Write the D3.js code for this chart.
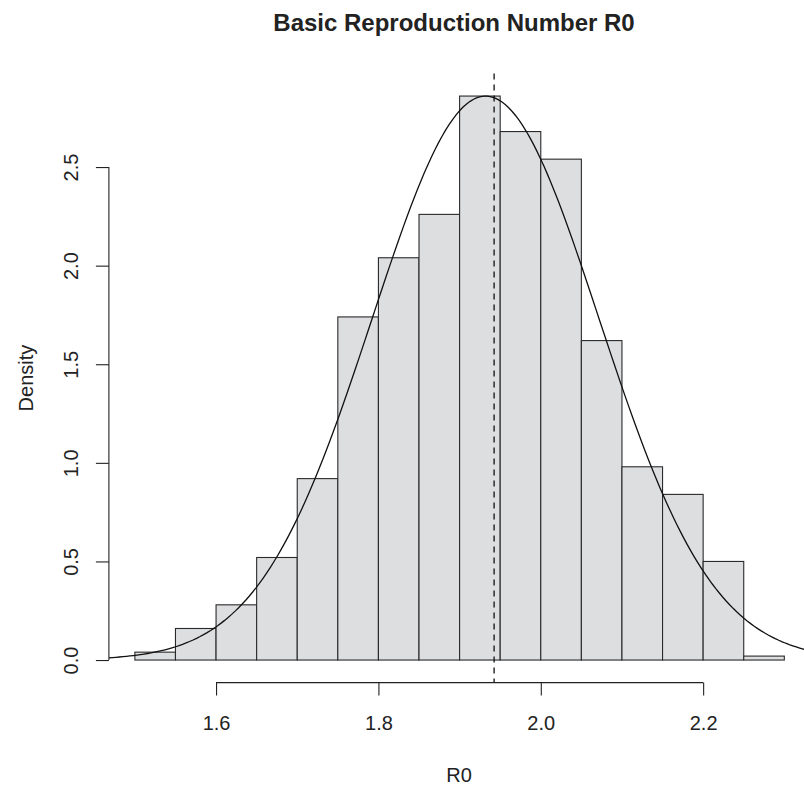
<!DOCTYPE html>
<html><head><meta charset="utf-8">
<script src="https://cdn.jsdelivr.net/npm/d3@7"></script>
<style>body{margin:0;background:#fff}svg{display:block}text{font-family:"Liberation Sans",Arial,sans-serif;fill:#222}</style>
</head><body><svg id="c" width="804" height="787"></svg>
<script>
// Data
const breaks = [1.50,1.55,1.60,1.65,1.70,1.75,1.80,1.85,1.90,1.95,2.00,2.05,2.10,2.15,2.20,2.25,2.30];
const densities = [0.04,0.16,0.28,0.52,0.92,1.74,2.04,2.26,2.86,2.68,2.54,1.62,0.98,0.84,0.50,0.02];
const xTicks = [1.6,1.8,2.0,2.2];
const yTicks = [0.0,0.5,1.0,1.5,2.0,2.5];
const fitMean = 1.932, fitSd = 0.1395;   // fitted normal curve parameters
const markLine = 1.9425;                 // dashed vertical reference

const svg = d3.select("#c");
const xDom = [1.5 - 0.032, 2.3 + 0.032];
const yDom = [-0.04*2.86, 2.86*1.04];
const x = d3.scaleLinear().domain(xDom).range([108.9, 810.3]);
const y = d3.scaleLinear().domain(yDom).range([682.6, 73.5]);

svg.append("defs").append("clipPath").attr("id","clip").append("rect")
  .attr("x",x(xDom[0])).attr("y",y(yDom[1])).attr("width",x(xDom[1])-x(xDom[0])).attr("height",y(yDom[0])-y(yDom[1]));

const bins = densities.map((d,i)=>({x0:breaks[i],x1:breaks[i+1],d}));
svg.append("g").selectAll("rect").data(bins).join("rect")
  .attr("x",d=>x(d.x0)).attr("width",d=>x(d.x1)-x(d.x0))
  .attr("y",d=>y(d.d)).attr("height",d=>y(0)-y(d.d))
  .attr("fill","#dddee0").attr("stroke","#2a2a2a").attr("stroke-width",1.1);

// normal density curve
const pts = d3.range(0,201).map(i=>{const v=xDom[0]+(xDom[1]-xDom[0])*i/200;
  return [v, Math.exp(-0.5*((v-fitMean)/fitSd)**2)/(fitSd*Math.sqrt(2*Math.PI))];});
svg.append("path").attr("clip-path","url(#clip)").datum(pts)
  .attr("d",d3.line().x(d=>x(d[0])).y(d=>y(d[1])))
  .attr("fill","none").attr("stroke","#111").attr("stroke-width",1.3);

svg.append("line").attr("x1",x(markLine)).attr("x2",x(markLine))
  .attr("y1",y(yDom[1])).attr("y2",y(yDom[0]))
  .attr("stroke","#111").attr("stroke-width",1.3).attr("stroke-dasharray","6,5");

// x axis
const xa = svg.append("g").attr("transform",`translate(0,${y(yDom[0])})`)
  .call(d3.axisBottom(x).tickValues(xTicks).tickFormat(d3.format(".1f")).tickSize(13).tickSizeOuter(0));
xa.select(".domain").attr("d",`M${x(xTicks[0])},0H${x(xTicks[xTicks.length-1])}`).attr("stroke","#222").attr("stroke-width",1.1);
xa.selectAll(".tick line").attr("stroke","#222").attr("stroke-width",1.1);
xa.selectAll(".tick text").attr("font-size",20).attr("dy",null).attr("y",47).style("fill","#222");

// y axis
const ya = svg.append("g").attr("transform",`translate(${x(xDom[0])},0)`)
  .call(d3.axisLeft(y).tickValues(yTicks).tickFormat(d3.format(".1f")).tickSize(13).tickSizeOuter(0));
ya.select(".domain").attr("d",`M0,${y(yTicks[0])}V${y(yTicks[yTicks.length-1])}`).attr("stroke","#222").attr("stroke-width",1.1);
ya.selectAll(".tick line").attr("stroke","#222").attr("stroke-width",1.1);
ya.selectAll(".tick text").attr("font-size",20).attr("x",null).attr("dy",null)
  .attr("text-anchor","middle").attr("transform","translate(-31,0) rotate(-90)").style("fill","#222");

svg.append("text").attr("x",454).attr("y",31).attr("text-anchor","middle")
  .attr("font-size",24).attr("font-weight","bold").text("Basic Reproduction Number R0");
svg.append("text").attr("x",459).attr("y",782).attr("text-anchor","middle").attr("font-size",20).text("R0");
svg.append("text").attr("transform",`translate(33,${(y(yDom[0])+y(yDom[1]))/2}) rotate(-90)`).attr("text-anchor","middle").attr("font-size",20).text("Density");
</script></body></html>
